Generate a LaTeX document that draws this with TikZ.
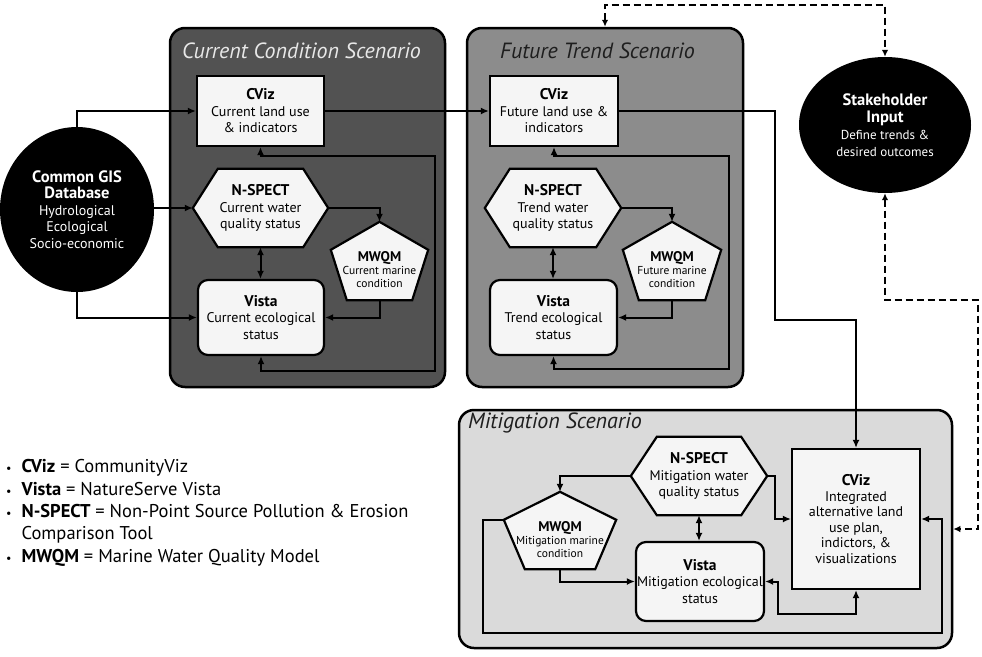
\documentclass[tikz,border=0pt]{standalone}
\usepackage{fontspec}
\setmainfont{PT Sans}
\usetikzlibrary{shapes.geometric,arrows.meta,calc}
\pgfdeclarelayer{panel}
\pgfdeclarelayer{shape}
\pgfsetlayers{panel,shape,main}

\definecolor{panelA}{RGB}{82,82,82}
\definecolor{panelB}{RGB}{140,140,140}
\definecolor{panelC}{RGB}{218,218,218}
\definecolor{boxfill}{RGB}{245,245,245}
\definecolor{titleA}{RGB}{232,232,232}
\definecolor{titleB}{RGB}{30,30,30}

\newcommand\nodehead[2][15.5]{{\fontsize{#1}{#1}\selectfont\bfseries #2}}
\newcommand\drawhex[2]{\draw[shapeline] (#1.west) -- ([xshift=#2]#1.north west) -- ([xshift=-#2]#1.north east) -- (#1.east) -- ([xshift=-#2]#1.south east) -- ([xshift=#2]#1.south west) -- cycle;}
\newcommand\drawpent[4]{%
  \draw[shapeline] ([yshift=#2]#1.north) -- ([yshift=-#3]#1.north east) -- ([xshift=-#4]#1.south east) -- ([xshift=#4]#1.south west) -- ([yshift=-#3]#1.north west) -- cycle;
  \coordinate (#1top) at ([yshift=#2]#1.north);
  \coordinate (#1left) at ([yshift=-#3]#1.north west);}

\tikzset{
  panelbox/.style={draw=black, line width=2.5pt, rounded corners=15pt, inner sep=0pt},
  paneltitle/.style={anchor=west, inner sep=0pt, font=\fontsize{22}{26}\selectfont\itshape},
  rectbox/.style={draw=black, line width=2.2pt, fill=boxfill, inner sep=0pt, align=center, font=\fontsize{14}{16.5}\selectfont},
  roundbox/.style={rectbox, rounded corners=10pt},
  hexnode/.style={inner sep=0pt, align=center, minimum width=135pt, minimum height=78pt, font=\fontsize{14}{16.5}\selectfont},
  pentnode/.style={inner sep=0pt, align=center, font=\fontsize{11.5}{13}\selectfont},
  shapeline/.style={draw=black, line width=2.2pt, fill=boxfill},
  blob/.style={ellipse, fill=black, inner sep=0pt, text=white, align=center},
  conn/.style={line width=2pt, -{Latex[length=8pt,width=7pt]}},
  biconn/.style={line width=2pt, {Latex[length=8pt,width=7pt]}-{Latex[length=8pt,width=7pt]}},
  dashconn/.style={line width=2pt, dash pattern=on 7pt off 4pt, {Latex[length=7pt,width=6.5pt]}-{Latex[length=7pt,width=6.5pt]}},
}

\begin{document}
\begin{tikzpicture}[x=1pt,y=-1pt]
\useasboundingbox (0,0) rectangle (982,656);

% panels
\begin{pgfonlayer}{panel}
  \node[panelbox, fill=panelA, minimum width=275pt, minimum height=359pt] (panA) at (307.5,207.5) {};
  \node[panelbox, fill=panelB, minimum width=276pt, minimum height=359pt] (panB) at (605,207.5) {};
  \node[panelbox, fill=panelC, minimum width=493pt, minimum height=238pt] (panC) at (705.5,529) {};
\end{pgfonlayer}

\node[paneltitle, text=titleA] (titA) at (182,51) {Current Condition Scenario};
\node[paneltitle, text=titleB] (titB) at (500,51) {Future Trend Scenario};
\node[paneltitle, text=titleB] (titC) at (468,423) {Mitigation Scenario};

% outside nodes
\node[blob, minimum width=154pt, minimum height=165pt, font=\fontsize{14}{16.5}\selectfont] (gis) at (77,209.5)
  {\nodehead[16.5]{Common GIS}\\\nodehead[16.5]{Database}\\Hydrological\\Ecological\\Socio-economic};
\node[blob, minimum width=172pt, minimum height=136pt, font=\fontsize{13}{17}\selectfont] (stake) at (885,125)
  {\nodehead[16.5]{Stakeholder}\\\nodehead[16.5]{Input}\\Define trends \&\\desired outcomes};

% current condition
\node[rectbox, minimum width=127pt, minimum height=70pt] (cvizA) at (260.5,111) {\nodehead{CViz}\\Current land use\\\& indicators};
\node[hexnode] (nsA) at (260.5,208) {\nodehead{N-SPECT}\\Current water\\quality status};
\node[roundbox, minimum width=126pt, minimum height=75pt] (vistaA) at (261,317.5) {\nodehead{Vista}\\Current ecological\\status};
\node[pentnode, minimum width=97pt, minimum height=60pt] (mwA) at (379.5,270) {\nodehead[14]{MWQM}\\Current marine\\condition};

% future trend
\node[rectbox, minimum width=128pt, minimum height=70pt] (cvizB) at (554,111) {\nodehead{CViz}\\Future land use \&\\indicators};
\node[hexnode, minimum width=136pt] (nsB) at (553,208) {\nodehead{N-SPECT}\\Trend water\\quality status};
\node[roundbox, minimum width=127pt, minimum height=75pt] (vistaB) at (553.5,317.5) {\nodehead{Vista}\\Trend ecological\\status};
\node[pentnode, minimum width=98pt, minimum height=60pt] (mwB) at (672,270) {\nodehead[14]{MWQM}\\Future marine\\condition};

% mitigation
\node[rectbox, minimum width=128pt, minimum height=140pt, font=\fontsize{14}{15.5}\selectfont] (cvizC) at (856,519)
  {\nodehead{CViz}\\Integrated\\alternative land\\use plan,\\indictors, \&\\visualizations};
\node[hexnode, minimum width=136pt] (nsC) at (699,476) {\nodehead{N-SPECT}\\Mitigation water\\quality status};
\node[roundbox, minimum width=128pt, minimum height=79pt] (vistaC) at (700,581.5) {\nodehead{Vista}\\Mitigation ecological\\status};
\node[pentnode, minimum width=112pt, minimum height=58pt] (mwC) at (560,540) {\nodehead[14]{MWQM}\\Mitigation marine\\condition};

% polygon outlines behind the texts
\begin{pgfonlayer}{shape}
  \drawhex{nsA}{25pt}
  \drawhex{nsB}{25pt}
  \drawhex{nsC}{26pt}
  \drawpent{mwA}{18pt}{10pt}{16pt}
  \drawpent{mwB}{18pt}{10pt}{16pt}
  \drawpent{mwC}{19pt}{9pt}{21pt}
\end{pgfonlayer}

% legend
\node[anchor=north west, inner sep=0pt, font=\fontsize{18.5}{22.3}\selectfont, align=left] (legend) at (6,457)
 {\begin{tabular}{@{}l@{\hspace{10pt}}l@{}}
  {\fontsize{12}{12}\selectfont\textbullet} & \textbf{CViz} = CommunityViz\\
  {\fontsize{12}{12}\selectfont\textbullet} & \textbf{Vista} = NatureServe Vista\\
  {\fontsize{12}{12}\selectfont\textbullet} & \textbf{N-SPECT} = Non-Point Source Pollution \& Erosion\\
   & Comparison Tool\\
  {\fontsize{12}{12}\selectfont\textbullet} & \textbf{MWQM} = Marine Water Quality Model
 \end{tabular}};

% connectors: GIS
\draw[conn] (gis.north) |- (cvizA.west);
\draw[conn] (gis.east |- nsA.west) -- (nsA.west);
\draw[conn] (gis.south) |- (vistaA.west);

% current panel
\draw[conn] (nsA.east) -| (mwAtop);
\draw[conn] (mwA.south) |- (vistaA.east);
\draw[biconn] (nsA.south) -- (nsA.south |- vistaA.north);
\draw[biconn] (cvizA.south) -- ++(0,9) -| (435,371) -| (vistaA.south);

% between panels
\draw[conn] (cvizA.east) -- (cvizB.west);
\draw[conn] (cvizB.east) -| (775,320) -| (cvizC.north);

% future panel
\draw[conn] (nsB.east) -| (mwBtop);
\draw[conn] (mwB.south) |- (vistaB.east);
\draw[biconn] (nsB.south) -- (nsB.south |- vistaB.north);
\draw[biconn] (cvizB.south) -- ++(0,9) -| (729,369) -| (vistaB.south);

% stakeholder
\draw[dashconn] (panB.north) -- (605,5) -| (stake.north);
\draw[dashconn] (stake.south) |- (978,300) |- (panC.east);

% mitigation panel
\draw[conn] (nsC.west) -| (mwCtop);
\draw[conn] (mwC.south) |- (vistaC.west);
\draw[conn] (nsC.east) -- ++(8,0) |- (cvizC.west);
\draw[biconn] (nsC.south) -- (nsC.south |- vistaC.north);
\draw[biconn] (vistaC.east) -- ++(13,0) |- ($(cvizC.south)+(0,24)$) -- (cvizC.south);
\draw[conn] (mwCleft) -| (483,633) -| (942,519) -- (cvizC.east);
\end{tikzpicture}
\end{document}
